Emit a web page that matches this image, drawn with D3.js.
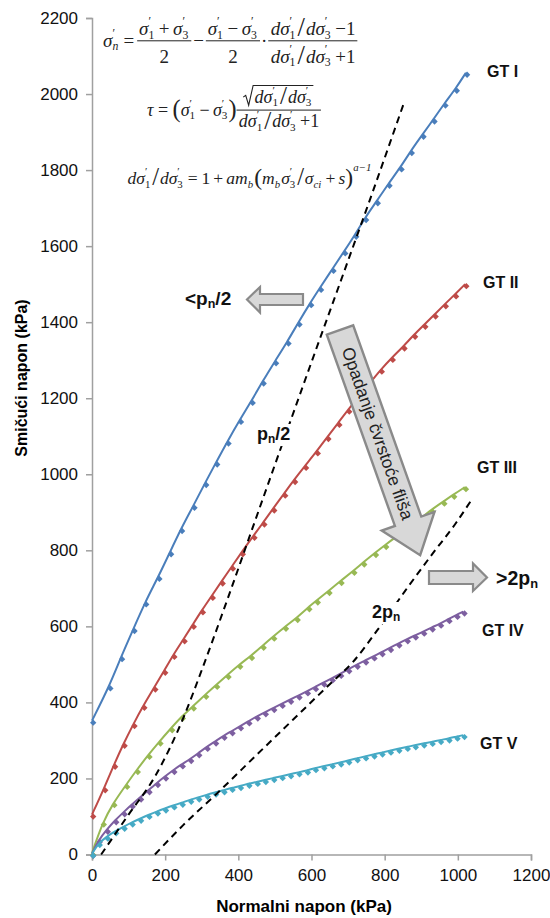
<!DOCTYPE html>
<html><head><meta charset="utf-8">
<script src="https://cdn.jsdelivr.net/npm/d3@7/dist/d3.min.js"></script>
<style>body{margin:0;background:#fff}svg{display:block}</style>
</head><body><svg id="c" width="550" height="918"></svg>
<script>
// ---------- DATA ----------
const xTicks = [0, 200, 400, 600, 800, 1000, 1200];
const yTicks = [0, 200, 400, 600, 800, 1000, 1200, 1400, 1600, 1800, 2000, 2200];
const seriesNames = ["GT I", "GT II", "GT III", "GT IV", "GT V"];

const gt1Sigma = [0,47,79,113,145,181,213,243,277,309,339,370,404,436,466,500,534,564,596,623,657,689,719,746,778,810,843,871,903,933,963,994,1022];
const gt1Tau   = [352,442,519,593,663,730,795,856,917,977,1031,1086,1143,1193,1244,1297,1349,1399,1450,1490,1540,1586,1630,1674,1718,1764,1807,1850,1893,1933,1975,2014,2056];

const gt2Sigma = [0,33,60,86,113,140,170,197,222,250,275,300,327,354,382,409,441,468,495,525,552,582,614,643,673,700,730,758,789,819,851,880,908,936,964,992,1020];
const gt2Tau   = [105,174,236,291,343,391,439,483,525,566,604,642,680,718,757,795,838,873,910,949,985,1022,1060,1098,1135,1170,1205,1238,1275,1306,1336,1367,1393,1420,1447,1473,1500];

const gt3Sigma = [0,29,58,93,122,154,184,216,245,275,309,339,370,402,434,466,495,527,559,591,614,646,679,714,741,773,801,832,864,896,928,960,987,1019];
const gt3Tau   = [4,84,135,183,222,262,297,332,363,389,420,446,472,499,522,549,573,599,622,650,668,693,719,746,768,793,814,836,858,882,907,928,946,966];

const gt4Sigma = [0,18,40,63,86,108,131,154,177,199,222,245,268,290,313,336,359,381,404,427,450,472,495,518,541,564,587,609,632,655,678,700,723,746,769,791,814,837,860,882,905,928,951,974,996,1015];
const gt4Tau   = [2,38,65,90,111,131,150,169,188,205,222,237,251,266,283,297,312,324,337,350,363,374,385,396,407,418,429,440,452,463,475,487,499,510,521,532,543,555,566,576,586,597,607,619,630,639];

const gt5Sigma = [0,18,40,63,86,108,131,154,177,199,222,245,268,290,313,336,359,381,404,427,450,472,495,518,541,564,587,609,632,655,678,700,723,746,769,791,814,837,860,882,905,928,951,974,996,1015];
const gt5Tau   = [2,30,47,61,73,84,94,104,113,121,129,136,144,150,157,163,169,175,180,186,191,196,201,206,211,216,221,227,232,237,242,247,253,258,263,268,273,278,283,287,292,296,301,305,310,314];

// reference curves (dashed)
const halfPnSigma = [25,100,172,250,300,368,432,500,600,700,750,851];
const halfPnTau   = [0,105,205,360,485,665,840,1025,1295,1562,1696,1972];
const twoPnSigma  = [172,250,341,450,550,650,713,780,855,930,992,1041];
const twoPnTau    = [0,78,160,262,355,448,506,590,692,790,868,938];

// ---------- STYLE / LAYOUT ----------
const colors = ["#4A7EBB", "#BE4B48", "#98B954", "#7D5FA0", "#46AAC5"];
const labelPos = [[487,77],[483,288],[477,473],[482,636],[480,749]];
const SANS = "Liberation Sans, Arial, sans-serif";

const svg = d3.select("#c");
const x = d3.scaleLinear().domain([0, 1200]).range([92, 531]);
const y = d3.scaleLinear().domain([0, 2200]).range([854.5, 18]);

// axes
const axisColor = "#A0A0A0";
const gy = svg.append("g").attr("transform", `translate(${x(0)},0)`)
  .call(d3.axisLeft(y).tickValues(yTicks).tickSize(6).tickPadding(8).tickFormat(d3.format("d")));
const gx = svg.append("g").attr("transform", `translate(0,${y(0)})`)
  .call(d3.axisBottom(x).tickValues(xTicks).tickSize(6).tickPadding(8).tickFormat(d3.format("d")));
[gx, gy].forEach(g => {
  g.select(".domain").attr("stroke", axisColor).attr("stroke-width", 1.5);
  g.selectAll(".tick line").attr("stroke", axisColor).attr("stroke-width", 1.5);
  g.selectAll(".tick text").attr("font-family", SANS).attr("font-size", 17).attr("fill", "#111");
});

svg.append("text").attr("x", 304).attr("y", 912).attr("text-anchor", "middle")
  .attr("font-family", SANS).attr("font-weight", "bold").attr("font-size", 17)
  .text("Normalni napon (kPa)");
svg.append("text").attr("transform", "translate(27,378) rotate(-90)").attr("text-anchor", "middle")
  .attr("font-family", SANS).attr("font-weight", "bold").attr("font-size", 16)
  .text("Smičući napon (kPa)");

// series
const seriesData = [
  d3.zip(gt1Sigma, gt1Tau), d3.zip(gt2Sigma, gt2Tau), d3.zip(gt3Sigma, gt3Tau),
  d3.zip(gt4Sigma, gt4Tau), d3.zip(gt5Sigma, gt5Tau)
];
const line = d3.line().x(d => x(d[0])).y(d => y(d[1])).curve(d3.curveBasis);
const diamond = d3.symbol().type(d3.symbolSquare).size(20);

seriesData.forEach((data, i) => {
  const g = svg.append("g");
  g.selectAll("path.m").data(data).join("path").attr("class", "m")
    .attr("d", diamond)
    .attr("transform", d => `translate(${x(d[0]) + 1.2},${y(d[1]) + 2}) rotate(45)`)
    .attr("fill", colors[i]);
  g.append("path").datum(data).attr("d", line).attr("fill", "none")
    .attr("stroke", colors[i]).attr("stroke-width", 2);
  svg.append("text").attr("x", labelPos[i][0]).attr("y", labelPos[i][1])
    .attr("font-family", SANS).attr("font-weight", "bold").attr("font-size", 16)
    .attr("fill", "#111").text(seriesNames[i]);
});

// dashed reference curves
const dline = d3.line().x(d => x(d[0])).y(d => y(d[1])).curve(d3.curveMonotoneX);
[d3.zip(halfPnSigma, halfPnTau), d3.zip(twoPnSigma, twoPnTau)].forEach(data => {
  svg.append("path").datum(data).attr("d", dline).attr("fill", "none")
    .attr("stroke", "#000").attr("stroke-width", 2).attr("stroke-dasharray", "7,5");
});

// annotation labels with subscript n (white box behind)
function pnLabel(px, py, pre, post, fs, box) {
  const bg = svg.append("rect").attr("fill", "#fff");
  const t = svg.append("text").attr("x", px).attr("y", py)
    .attr("font-family", SANS).attr("font-weight", "bold").attr("font-size", fs).attr("fill", "#111");
  t.append("tspan").text(pre + "p");
  t.append("tspan").attr("font-size", fs * 0.66).attr("dy", fs * 0.17).text("n");
  if (post) t.append("tspan").attr("dy", -fs * 0.17).text(post);
  if (box) {
    const b = t.node().getBBox();
    bg.attr("x", b.x - 2).attr("y", b.y).attr("width", b.width + 4).attr("height", b.height);
  } else bg.remove();
}
pnLabel(185, 305, "<", "/2", 19, false);
pnLabel(257, 440, "", "/2", 18, true);
pnLabel(372, 618, "2", "", 18, true);
pnLabel(496, 585, ">2", "", 19.5, false);

// block arrows
const arrowFill = "#D8D8D8", arrowStroke = "#8A8A8A";
svg.append("path").attr("d", "M303,294 L260,294 L260,287 L247,299.5 L260,312.5 L260,305 L303,305 Z")
  .attr("fill", arrowFill).attr("stroke", arrowStroke).attr("stroke-width", 2.2);
svg.append("path").attr("d", "M429,571 L473,571 L473,563.5 L487,577.5 L473,591 L473,584 L429,584 Z")
  .attr("fill", arrowFill).attr("stroke", arrowStroke).attr("stroke-width", 2.2);
const ga = svg.append("g").attr("transform", "translate(340,330) rotate(-19.6)");
ga.append("path").attr("d", "M-14,0 L14,0 L14,203 L28,203 L0,239 L-28,203 L-14,203 Z")
  .attr("fill", arrowFill).attr("stroke", arrowStroke).attr("stroke-width", 2.4);
ga.append("text").attr("transform", "translate(1,110) rotate(90)").attr("text-anchor", "middle").attr("dy", "0.36em")
  .attr("font-family", SANS).attr("font-size", 17.5).attr("fill", "#222")
  .text("Opadanje čvrstoće fliša");

// ---------- formulas ----------
const fg = svg.append("g").attr("font-family", "Liberation Serif, Times New Roman, serif").attr("fill", "#222");
function mrow(g, items, x0, y0, fs) {
  let cx = x0;
  items.forEach(it => {
    if (typeof it === "string") it = {t: it};
    if (it.t !== undefined) {
      const e = g.append("text").attr("x", cx).attr("y", y0 + (it.dy || 0) * fs)
        .attr("font-size", fs * (it.k || 1)).attr("font-style", it.i ? "italic" : null).text(it.t);
      cx += e.node().getComputedTextLength() + (it.g || 0) * fs;
    } else if (it.sup !== undefined || it.sub !== undefined) {
      let w = 0;
      if (it.sup !== undefined) {
        const e = g.append("text").attr("x", cx + (it.supx || 0) * fs).attr("y", y0 - fs * (it.supy || 0.5))
          .attr("font-size", fs * 0.62).attr("font-style", it.supi ? "italic" : null).text(it.sup);
        w = Math.max(w, e.node().getComputedTextLength() + (it.supx || 0) * fs);
      }
      if (it.sub !== undefined) {
        const e = g.append("text").attr("x", cx).attr("y", y0 + fs * 0.2)
          .attr("font-size", fs * 0.62).attr("font-style", it.subi ? "italic" : null).text(it.sub);
        w = Math.max(w, e.node().getComputedTextLength());
      }
      cx += w + fs * 0.06;
    } else if (it.frac) {
      const bar = y0 - fs * 0.3;
      const gn = g.append("g"), gd = g.append("g");
      const wn = mrow(gn, it.frac[0], 0, bar - fs * (it.nd || 0.32), fs);
      const wd = mrow(gd, it.frac[1], 0, bar + fs * (it.dd || 1.05), fs);
      const W = Math.max(wn, wd) + fs * 0.2;
      gn.attr("transform", `translate(${cx + (W - wn) / 2},0)`);
      gd.attr("transform", `translate(${cx + (W - wd) / 2},0)`);
      g.append("line").attr("x1", cx).attr("x2", cx + W).attr("y1", bar).attr("y2", bar)
        .attr("stroke", "#222").attr("stroke-width", 1);
      cx += W;
    } else if (it.sqrt) {
      const gs = g.append("g");
      const w = mrow(gs, it.sqrt, 0, y0, fs);
      const rw = fs * 0.55, top = y0 - fs * 0.95;
      g.append("path").attr("d", `M${cx},${y0 - fs * 0.3} L${cx + rw * 0.25},${y0 - fs * 0.4} L${cx + rw * 0.55},${y0 + fs * 0.15} L${cx + rw},${top} L${cx + rw + w + fs * 0.1},${top}`)
        .attr("fill", "none").attr("stroke", "#222").attr("stroke-width", 1.1);
      gs.attr("transform", `translate(${cx + rw + fs * 0.05},0)`);
      cx += rw + w + fs * 0.15;
    } else if (it.sp !== undefined) cx += it.sp * fs;
  });
  return cx - x0;
}
const sg = (s, si) => [{t: "σ", i: true}, {sup: "′", sub: s, subi: si}];
const dsg = s => [{t: "d", i: true}, ...sg(s)];
const sl = {t: "/", k: 1.4, dy: 0.08};
const sp = v => ({sp: v});
const ratio = [sp(0.03), ...dsg("1"), sp(0.05), sl, sp(0.05), ...dsg("3")];

mrow(fg, [
  ...sg("n", true), sp(0.22), "=", sp(0.15),
  {frac: [[...sg("1"), sp(0.18), "+", sp(0.18), ...sg("3")], ["2"]], dd: 1.15},
  sp(0.1), "−", sp(0.1),
  {frac: [[...sg("1"), sp(0.18), "−", sp(0.18), ...sg("3")], ["2"]], dd: 1.15},
  sp(0.05), "·", sp(0.05),
  {frac: [[...ratio, sp(0.18), "−1"], [...ratio, sp(0.18), "+1"]], dd: 1.15}
], 103, 46.5, 19);

mrow(fg, [
  {t: "τ", i: true}, sp(0.25), "=", sp(0.25), {t: "(", k: 1.35, dy: 0.06},
  ...sg("1"), sp(0.18), "−", sp(0.18), ...sg("3"), {t: ")", k: 1.35, dy: 0.06},
  {frac: [[{sqrt: ratio}], [...ratio, sp(0.18), "+1"]], nd: 0.42, dd: 0.95}
], 147, 115.5, 18);

mrow(fg, [
  ...ratio, sp(0.22), "=", sp(0.22), "1", sp(0.18), "+", sp(0.18), {t: "am", i: true}, {sub: "b", subi: true},
  {t: "(", k: 1.35, dy: 0.06}, {t: "m", i: true}, {sub: "b", subi: true}, ...sg("3"), sp(0.05), sl, sp(0.05),
  {t: "σ", i: true}, {sub: "ci", subi: true}, sp(0.18), "+", sp(0.18), {t: "s", i: true},
  {t: ")", k: 1.35, dy: 0.06}, {sup: "a−1", supi: true, supy: 0.72}
], 127, 184, 17.5);
</script></body></html>
